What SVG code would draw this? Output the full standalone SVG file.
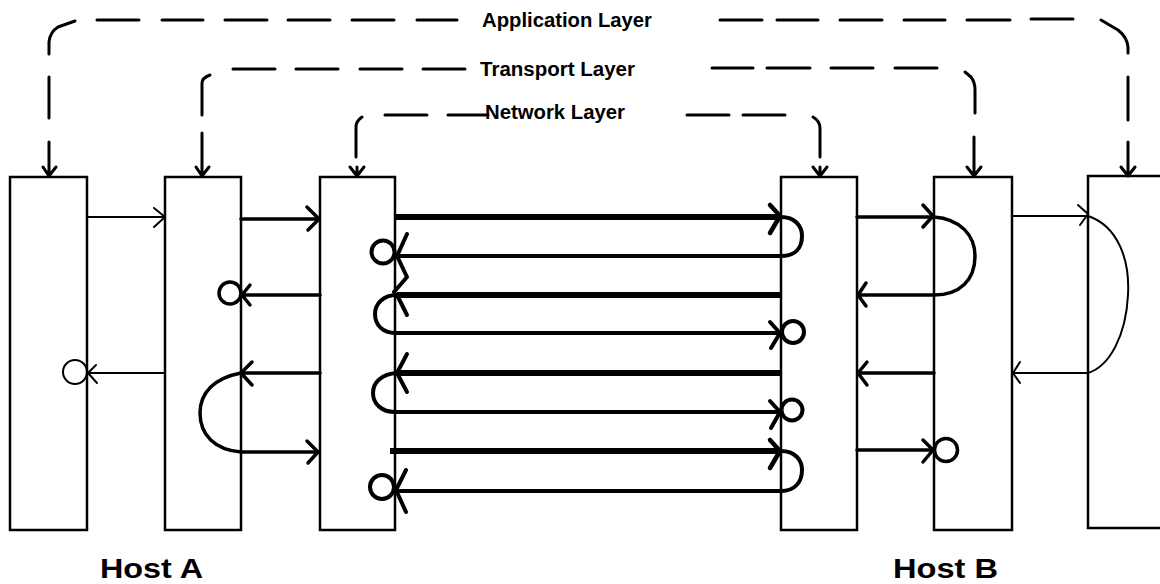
<svg xmlns="http://www.w3.org/2000/svg" width="1160" height="584" viewBox="0 0 1160 584">
<style>
.box{fill:#fff;stroke:#000;stroke-width:2.5}
.d{fill:none;stroke:#000;stroke-width:3;stroke-linecap:round;stroke-linejoin:round}
.thin{fill:none;stroke:#000;stroke-width:2;stroke-linecap:round;stroke-linejoin:round}
.med{fill:none;stroke:#000;stroke-width:3.5;stroke-linecap:round;stroke-linejoin:round}
.mid{fill:none;stroke:#000;stroke-width:4;stroke-linecap:round;stroke-linejoin:round}
.thk{fill:none;stroke:#000;stroke-width:6;stroke-linejoin:round}
.ah{fill:none;stroke:#000;stroke-width:3.5;stroke-linecap:round;stroke-linejoin:round}
.aht{fill:none;stroke:#000;stroke-width:2;stroke-linecap:round;stroke-linejoin:round}
.lbl{font-family:"Liberation Sans",Arial,sans-serif;font-weight:bold;font-size:20px;fill:#000}
.host{font-family:"Liberation Sans",Arial,sans-serif;font-weight:bold;font-size:28px;fill:#000}
</style>
<rect width="1160" height="584" fill="#fff"/>

<g id="hostA-app"><rect class="box" x="10" y="177" width="77" height="353"/></g>
<g id="hostA-transport"><rect class="box" x="165" y="177" width="76" height="353"/></g>
<g id="hostA-network"><rect class="box" x="320" y="177" width="75" height="353"/></g>
<g id="hostB-network"><rect class="box" x="781" y="177" width="76" height="353"/></g>
<g id="hostB-transport"><rect class="box" x="934" y="177" width="78" height="353"/></g>
<g id="hostB-app"><rect class="box" x="1088" y="176" width="90" height="352"/></g>

<g id="layer-labels">
<text class="lbl" x="482" y="27" textLength="170" lengthAdjust="spacingAndGlyphs">Application Layer</text>
<text class="lbl" x="480" y="76" textLength="155" lengthAdjust="spacingAndGlyphs">Transport Layer</text>
<text class="lbl" x="485" y="119" textLength="140" lengthAdjust="spacingAndGlyphs">Network Layer</text>
</g>
<g id="host-labels">
<text class="host" x="100" y="578" textLength="103" lengthAdjust="spacingAndGlyphs">Host A</text>
<text class="host" x="893" y="578" textLength="105" lengthAdjust="spacingAndGlyphs">Host B</text>
</g>

<g id="connectors">
<!-- Application layer dashed -->
<path class="d" d="M49,54 L49,42 Q50,32 58,27 L75,21"/>
<path class="d" d="M49,77 L49,118 M49,142 L49,176 M43,167 L49,176 L56,167"/>
<path class="d" d="M97,20 H139 M162,20 H203 M225,20 H267 M288,20 H330 M352,20 H394 M417,20 H457 M720,20 H762 M777,20 H818 M840,20 H882 M904,20 H945 M967,20 H1010 M1031,19 H1073"/>
<path class="d" d="M1101,20 L1118,30 Q1127,37 1128,47 L1128,53"/>
<path class="d" d="M1128,77 L1128,120 M1128,142 L1128,176 M1121,167 L1128,176 L1135,167"/>
<!-- Transport layer dashed -->
<path class="d" d="M202,115 L202,83 Q202,78 210,75"/>
<path class="d" d="M202,133 L202,176 M196,167 L202,176 L209,167"/>
<path class="d" d="M233,69 H275 M296,69 H338 M360,69 H402 M423,69 H465 M712,68 H753 M767,68 H810 M831,68 H873 M895,68 H937"/>
<path class="d" d="M965,72 L971,77 Q975,82 975,90 L975,113"/>
<path class="d" d="M974,137 L974,176 M967,167 L974,176 L981,167"/>
<!-- Network layer dashed -->
<path class="d" d="M362,117 Q356,121 356,127 L356,157"/>
<path class="d" d="M357,167 L357,176 M350,167 L357,176 L364,167"/>
<path class="d" d="M385,115 H427 M448,115 H488 M687,115 H729 M743,115 H785"/>
<path class="d" d="M813,117 Q820,121 820,128 L820,157"/>
<path class="d" d="M820,167 L820,176 M813,167 L820,176 L827,167"/>

<!-- Host A: app <-> transport -->
<path class="thin" d="M87,217 H165"/>
<path class="aht" d="M154,208 L165,217 L154,227"/>
<path class="thin" d="M165,373 H88"/>
<path class="aht" d="M96,365 L88,373 L97,383"/>
<circle class="thin" cx="75" cy="372" r="12"/>

<!-- Host A: transport <-> network -->
<path class="med" d="M241,219 H319"/>
<path class="ah" d="M307,207 L319,219 L308,230"/>
<path class="med" d="M320,295 H242"/>
<path class="ah" d="M250,285 L242,295 L250,305"/>
<circle class="med" cx="230" cy="293" r="11"/>
<path class="med" d="M320,373 H241"/>
<path class="ah" d="M252,362 L241,373 L252,385"/>
<path class="med" d="M241,373 C215,378 200,392 200,413 C200,435 215,450 241,452 H318"/>
<path class="ah" d="M307,441 L318,452 L308,463"/>

<!-- Network layer link -->
<path class="thk" d="M395,217 H780"/>
<path class="ah" d="M770,205 L780,216 L770,233" style="stroke-width:4.5"/>
<path class="mid" d="M781,217 C795,217 802,226 802,236 C802,248 795,256 781,256 H397"/>
<path class="ah" d="M407,234 L397,256 L407,277 L394,292" style="stroke-width:4"/>
<circle class="mid" cx="383" cy="252" r="11.5"/>

<path class="thk" d="M781,295 H397"/>
<path class="ah" d="M397,295 L407,315" style="stroke-width:4"/>
<path class="mid" d="M397,295 C383,295 375,304 375,314 C375,325 383,333 395,333 H780"/>
<path class="ah" d="M770,322 L780,333 L771,348" style="stroke-width:4"/>
<circle class="mid" cx="793" cy="332" r="11"/>

<path class="thk" d="M781,373 H397"/>
<path class="ah" d="M407,354 L397,373 L407,392" style="stroke-width:4"/>
<path class="mid" d="M397,373 C382,374 373,382 373,393 C373,404 382,412 395,412 H780"/>
<path class="ah" d="M770,401 L780,412 L771,428" style="stroke-width:4"/>
<circle class="mid" cx="792" cy="410" r="10.5"/>

<path class="thk" d="M390,451 H780"/>
<path class="ah" d="M770,440 L780,451 L770,468" style="stroke-width:4.5"/>
<path class="mid" d="M781,451 C795,451 802,460 802,470 C802,482 795,491 781,491 H397"/>
<path class="ah" d="M406,470 L396,490 L406,512" style="stroke-width:4"/>
<circle class="mid" cx="382" cy="487" r="12"/>

<!-- Host B: network <-> transport -->
<path class="med" d="M857,217 H933"/>
<path class="ah" d="M923,205 L933,216 L923,227"/>
<path class="med" d="M934,217 C960,219 975,235 975,256 C975,280 960,295 934,295 H858"/>
<path class="ah" d="M866,283 L858,295 L866,306"/>
<path class="med" d="M934,373 H858"/>
<path class="ah" d="M867,362 L858,373 L867,385"/>
<path class="med" d="M857,450 H933"/>
<path class="ah" d="M923,440 L933,450 L923,462"/>
<circle class="med" cx="946" cy="450" r="11.5"/>

<!-- Host B: transport <-> app -->
<path class="thin" d="M1012,216 H1088"/>
<path class="aht" d="M1078,205 L1088,214 L1080,225"/>
<path class="thin" d="M1088,216 C1118,226 1130,260 1128,295 C1126,335 1110,366 1088,373 H1013"/>
<path class="aht" d="M1020,362 L1013,373 L1020,383"/>
</g>
</svg>
